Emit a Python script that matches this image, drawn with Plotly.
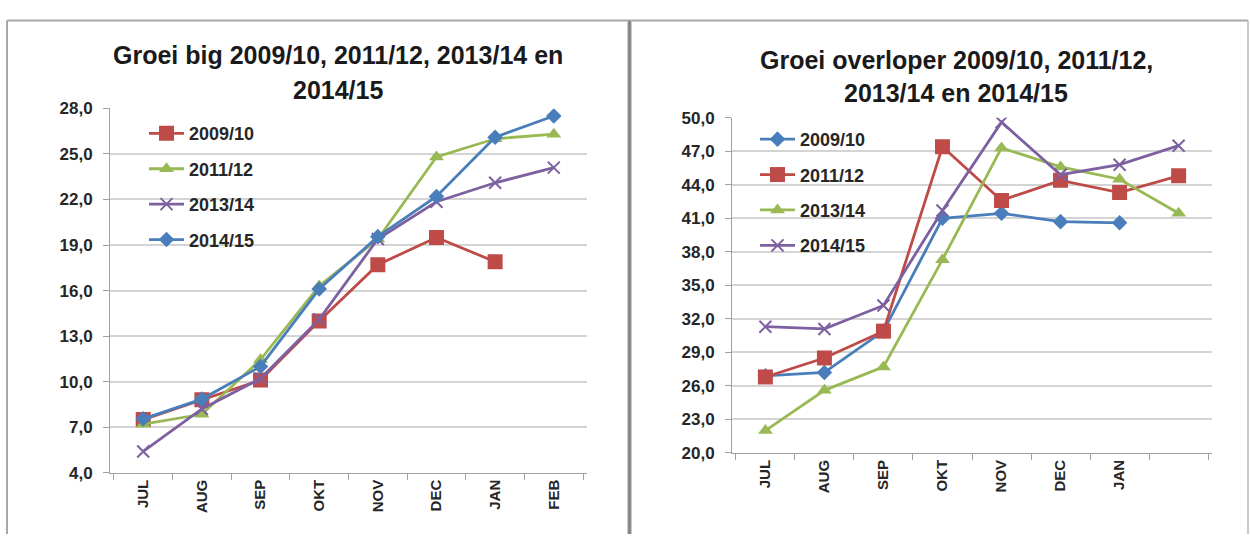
import plotly.graph_objects as go

# ---------------- data ----------------
months_left = ["JUL", "AUG", "SEP", "OKT", "NOV", "DEC", "JAN", "FEB"]
months_right = ["JUL", "AUG", "SEP", "OKT", "NOV", "DEC", "JAN", " "]

left_series = ["2009/10", "2011/12", "2013/14", "2014/15"]
big_2009_10 = [7.5, 8.8, 10.1, 14.0, 17.7, 19.5, 17.9, None]
big_2011_12 = [7.2, 7.85, 11.45, 16.3, 19.4, 24.8, 26.0, 26.3]
big_2013_14 = [5.4, 8.2, 10.2, 14.1, 19.4, 21.85, 23.1, 24.1]
big_2014_15 = [7.55, 8.85, 11.0, 16.1, 19.55, 22.2, 26.1, 27.5]

right_series = ["2009/10", "2011/12", "2013/14", "2014/15"]
ovl_2009_10 = [26.9, 27.2, 30.9, 41.0, 41.45, 40.7, 40.6, None]
ovl_2011_12 = [26.8, 28.5, 30.9, 47.4, 42.6, 44.4, 43.3, 44.8]
ovl_2013_14 = [22.0, 25.6, 27.7, 37.3, 47.3, 45.6, 44.5, 41.45]
ovl_2014_15 = [31.3, 31.1, 33.2, 41.7, 49.6, 44.9, 45.8, 47.5]

title_left = ["Groei big 2009/10, 2011/12, 2013/14 en", "2014/15"]
title_right = ["Groei overloper 2009/10, 2011/12,", "2013/14 en 2014/15"]

# ---------------- style ----------------
BLUE, RED, GREEN, PURPLE = "#4A7EBB", "#BE4B48", "#98B954", "#7D60A0"
FONT = "Liberation Sans"
TXT = "#262626"
W, H = 1250, 544

def px_x(x):
    return x / W

def px_y(y):
    return 1 - y / H

fig = go.Figure()

def add_series(x, y, name, color, symbol, size, xa, ya, legend):
    mline = dict(width=0)
    if symbol == "x-thin":
        mline = dict(width=2, color=color)
    fig.add_trace(go.Scatter(
        x=x, y=y, name=name, mode="lines+markers",
        line=dict(color=color, width=2.8),
        marker=dict(symbol=symbol, size=size, color=color, line=mline),
        xaxis=xa, yaxis=ya, legend=legend, legendgroup=legend + name,
        connectgaps=False, hoverinfo="skip",
    ))

# left chart
add_series(months_left, big_2009_10, left_series[0], RED, "square", 15, "x", "y", "legend")
add_series(months_left, big_2011_12, left_series[1], GREEN, "triangle-up", 13, "x", "y", "legend")
add_series(months_left, big_2013_14, left_series[2], PURPLE, "x-thin", 12, "x", "y", "legend")
add_series(months_left, big_2014_15, left_series[3], BLUE, "diamond", 12, "x", "y", "legend")

# right chart
add_series(months_right, ovl_2009_10, right_series[0], BLUE, "diamond", 12, "x2", "y2", "legend2")
add_series(months_right, ovl_2011_12, right_series[1], RED, "square", 15, "x2", "y2", "legend2")
add_series(months_right, ovl_2013_14, right_series[2], GREEN, "triangle-up", 13, "x2", "y2", "legend2")
add_series(months_right, ovl_2014_15, right_series[3], PURPLE, "x-thin", 12, "x2", "y2", "legend2")

xaxis_common = dict(
    type="category", tickson="boundaries", ticks="outside", ticklen=6,
    tickcolor="#a0a0a0", showline=True, linecolor="#a0a0a0", linewidth=1,
    showgrid=False, tickangle=-90, zeroline=False, fixedrange=True,
    tickfont=dict(family=FONT, size=15, color=TXT, weight="bold"),
)
yaxis_common = dict(
    ticks="outside", ticklen=6, tickcolor="#a0a0a0", showline=True,
    linecolor="#a0a0a0", linewidth=1, showgrid=True, gridcolor="#d4d4d4",
    gridwidth=1.5, zeroline=False, tickformat=".1f", dtick=3,
    ticklabelstandoff=7, fixedrange=True,
    tickfont=dict(family=FONT, size=17, color=TXT, weight="bold"),
)

legend_common = dict(
    xanchor="left", yanchor="top", bgcolor="rgba(0,0,0,0)",
    font=dict(family=FONT, size=18, color=TXT, weight="bold"),
    traceorder="grouped", tracegroupgap=9, itemwidth=35,
)

fig.update_layout(
    width=W, height=H,
    margin=dict(l=0, r=0, t=0, b=0),
    paper_bgcolor="white", plot_bgcolor="white",
    separators=",.",
    showlegend=True,
    xaxis=dict(xaxis_common, domain=[px_x(110), px_x(587)], anchor="y"),
    yaxis=dict(yaxis_common, domain=[px_y(480.5), px_y(103)], range=[4, 28],
               tick0=4, anchor="x"),
    xaxis2=dict(xaxis_common, domain=[px_x(732), px_x(1212)], anchor="y2"),
    yaxis2=dict(yaxis_common, domain=[px_y(460), px_y(112.7)], range=[20, 50],
                tick0=20, anchor="x2"),
    legend=dict(legend_common, x=px_x(144), y=px_y(110)),
    legend2=dict(legend_common, x=px_x(755), y=px_y(116)),
)

# titles
def title_line(text, xc, yc):
    fig.add_annotation(
        text=text, x=px_x(xc), y=px_y(yc), xref="paper", yref="paper",
        xanchor="center", yanchor="middle", showarrow=False,
        font=dict(family=FONT, size=25, color="#1a1a1a", weight="bold"),
    )

title_line(title_left[0], 338, 48)
title_line(title_left[1], 338, 84)
title_line(title_right[0], 956, 53)
title_line(title_right[1], 956, 87)

# panel frames
frame = dict(xref="paper", yref="paper", layer="above")
fig.add_shape(type="line", x0=px_x(7), x1=px_x(1248), y0=px_y(12), y1=px_y(12),
              line=dict(color="#a8a8a8", width=2), **frame)
fig.add_shape(type="line", x0=px_x(7), x1=px_x(7), y0=px_y(12), y1=0,
              line=dict(color="#a8a8a8", width=2), **frame)
fig.add_shape(type="line", x0=px_x(1248), x1=px_x(1248), y0=px_y(12), y1=0,
              line=dict(color="#b8b8b8", width=1.5), **frame)
fig.add_shape(type="line", x0=px_x(629.5), x1=px_x(629.5), y0=px_y(12), y1=0,
              line=dict(color="#c8c8c8", width=5), **frame)
fig.add_shape(type="line", x0=px_x(629.5), x1=px_x(629.5), y0=px_y(12), y1=0,
              line=dict(color="#808080", width=2.5), **frame)

fig.write_html(
    "out.html",
    config={"displayModeBar": False},
    post_script="document.body.style.margin='0';document.body.style.overflow='hidden';",
)
